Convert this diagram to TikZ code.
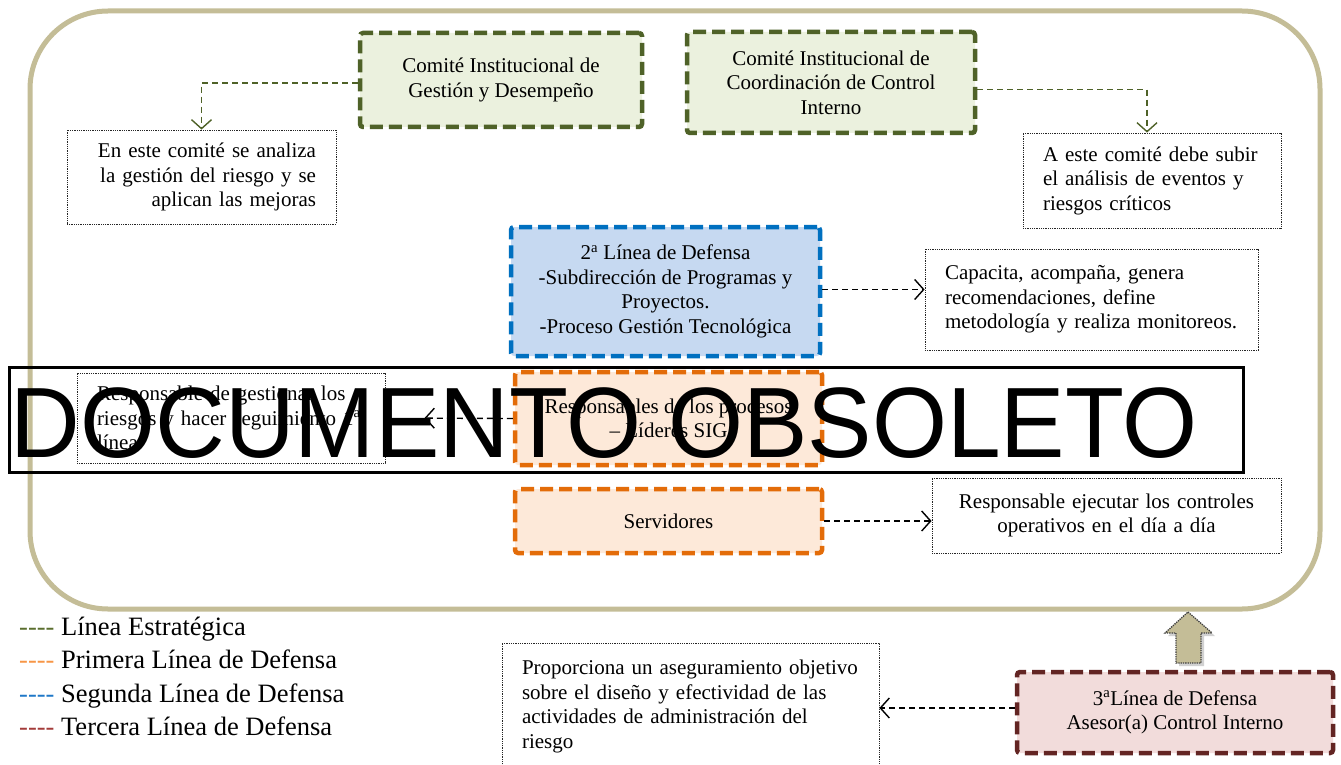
\documentclass[tikz,border=0pt]{standalone}
\usepackage{fontspec}
\setmainfont{Liberation Serif}
\newfontfamily\wmfont{Liberation Sans}
\usetikzlibrary{arrows.meta}
\definecolor{khaki}{HTML}{C4BD97}
\definecolor{grnD}{HTML}{4F6228}
\definecolor{grnL}{HTML}{EBF1DE}
\definecolor{bluD}{HTML}{0070C0}
\definecolor{bluL}{HTML}{C6D9F1}
\definecolor{orgD}{HTML}{E36C09}
\definecolor{orgL}{HTML}{FDE9D9}
\definecolor{redD}{HTML}{632523}
\definecolor{redL}{HTML}{F2DCDB}
\definecolor{legG}{HTML}{5A6E2E}
\definecolor{legO}{HTML}{F79646}
\definecolor{legB}{HTML}{1F78C8}
\definecolor{legR}{HTML}{A33B39}
\newcommand{\legdash}[1]{\textcolor{#1}{{-}{-}{-}{-}}}
\begin{document}
\begin{tikzpicture}[x=1pt,y=-1pt,
  txt/.style={font=\fontsize{21}{24.5}\selectfont},
  linebox/.style={txt, draw, line width=4.5pt, dash pattern=on 13pt off 6pt,
    rounded corners=3pt, align=center, inner sep=0pt},
  gbox/.style={linebox, draw=grnD, fill=grnL},
  bbox/.style={linebox, draw=bluD, fill=bluL},
  obox/.style={linebox, draw=orgD, fill=orgL},
  rbox/.style={linebox, draw=redD, fill=redL},
  note/.style={txt, draw=black!85, densely dotted, line width=0.8pt,
    inner xsep=20pt, inner ysep=0pt, fill=white},
  conn/.style={dash pattern=on 6pt off 4pt, line width=1.4pt,
    -{Straight Barb[length=9pt,width=20pt]}},
  legend/.style={font=\fontsize{26.5}{30}\selectfont, anchor=base west, inner sep=0pt}
]
\useasboundingbox (0,0) rectangle (1341,765);
\fill[white] (0,0) rectangle (1341,765);

% outer frame
\draw[khaki, line width=5pt, rounded corners=78pt] (30,11) rectangle (1320,609);

% strategic line boxes
\node[gbox, minimum width=282pt, minimum height=94pt] (cigd) at (501,80)
  {Comité Institucional de\\Gestión y Desempeño};
\node[gbox, minimum width=288pt, minimum height=101pt] (cicci) at (831,82.5)
  {Comité Institucional de\\Coordinación de Control\\Interno};

% notes
\node[note, text width=229pt, align=right, minimum height=94pt] (n1) at (201.5,177)
  {En este comité se analiza\\la gestión del riesgo y se\\aplican las mejoras};
\node[note, text width=218pt, align=left, minimum height=95pt] (n2) at (1152,180.5)
  {A este comité debe subir\\el análisis de eventos y\\riesgos críticos};

\draw[conn, grnD] ([yshift=-3pt]cigd.west) -| (n1.north);
\draw[conn, grnD] ([yshift=-7pt]cicci.east) -| ([xshift=-5pt]n2.north);

% second line
\node[bbox, minimum width=309pt, minimum height=129pt] (blue) at (665.5,291.5)
  {2\textsuperscript{a} Línea de Defensa\\-Subdirección de Programas y\\Proyectos.\\-Proceso Gestión Tecnológica};
\node[note, text width=293pt, align=left, minimum height=101pt] (n3) at (1091.5,299.5)
  {Capacita, acompaña, genera\\recomendaciones, define\\metodología y realiza monitoreos.};
\draw[conn, black] ([yshift=2pt]blue.east) -- ([yshift=2pt]blue.east -| n3.west);

% first line
\node[obox, minimum width=307pt, minimum height=93pt] (lid) at (668.5,418.5)
  {Responsables de los procesos\\– Líderes SIG};
\node[note, text width=268pt, align=left, minimum height=90pt] (n4) at (231,418)
  {Responsable de gestionar los\\riesgos y hacer seguimiento 1\textsuperscript{a}\\línea};
\draw[conn, black, shorten >=39pt] (lid.west) -- (n4.east);

\node[obox, minimum width=307pt, minimum height=64pt] (serv) at (668.5,521)
  {Servidores};
\node[note, text width=309pt, align=center, minimum height=75pt] (n5) at (1106.5,515.5)
  {Responsable ejecutar los controles\\operativos en el día a día};
\draw[conn, black] (serv.east) -- (serv.east -| n5.west);

% third line
\fill[black, opacity=0.18] (1191,615) -- (1215,636) -- (1204,636) -- (1204,666)
  -- (1179,666) -- (1179,636) -- (1168,636) -- cycle;
\draw[fill=khaki, draw=black!75, densely dotted, line width=1.3pt]
  (1188,612) coordinate (tip) -- (1212,633) -- (1201,633) -- (1201,663)
  -- (1176,663) -- (1176,633) -- (1165,633) -- cycle;
\node[rbox, minimum width=316pt, minimum height=81pt] (third) at (1175,712.5)
  {3\textsuperscript{a}Línea de Defensa\\Asesor(a) Control Interno};
\node[note, text width=337pt, align=left, minimum height=127pt] (n6) at (690.5,706.5)
  {Proporciona un aseguramiento objetivo\\sobre el diseño y efectividad de las\\actividades de administración del\\riesgo};
\draw[conn, black] ([yshift=4.5pt]third.west) -- ([yshift=4.5pt]third.west -| n6.east);

% legend
\node[legend] (l1) at (19,635) {\legdash{legG} Línea Estratégica};
\node[legend] (l2) at (19,668.5) {\legdash{legO} Primera Línea de Defensa};
\node[legend] (l3) at (19,702) {\legdash{legB} Segunda Línea de Defensa};
\node[legend] (l4) at (19,735.5) {\legdash{legR} Tercera Línea de Defensa};

% watermark
\draw[black, line width=3pt] (9,367) rectangle (1243,472);
\node[anchor=base west, inner sep=0pt, xscale=0.965, font=\wmfont\fontsize{100}{100}\selectfont]
  (wm) at (10.5,457) {DOCUMENTO OBSOLETO};
\end{tikzpicture}
\end{document}
